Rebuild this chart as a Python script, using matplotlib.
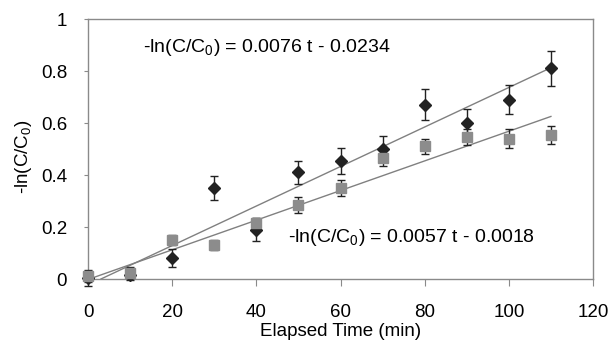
import matplotlib
matplotlib.use("Agg")
import matplotlib.pyplot as plt
import numpy as np

plt.rcParams['font.family'] = ['Liberation Sans', 'DejaVu Sans']
plt.rcParams['mathtext.fontset'] = 'custom'
plt.rcParams['mathtext.rm'] = 'Liberation Sans'
plt.rcParams['mathtext.it'] = 'Liberation Sans:italic'

t = [0, 10, 20, 30, 40, 50, 60, 70, 80, 90, 100, 110]
diamond_y = [0.005, 0.015, 0.08, 0.35, 0.19, 0.41, 0.455, 0.50, 0.67, 0.60, 0.69, 0.81]
diamond_err = [0.03, 0.02, 0.035, 0.045, 0.045, 0.045, 0.05, 0.05, 0.06, 0.055, 0.055, 0.067]
square_y = [0.01, 0.025, 0.15, 0.13, 0.215, 0.285, 0.35, 0.465, 0.51, 0.545, 0.54, 0.555]
square_err = [0.02, 0.02, 0.02, 0.02, 0.02, 0.03, 0.03, 0.03, 0.03, 0.03, 0.035, 0.035]

fit1 = (0.0076, -0.0234)
fit2 = (0.0057, -0.0018)
fit1_range = [3.08, 110]
fit2_range = [0, 110]

fig = plt.figure(figsize=(6.11, 3.41), dpi=100)
ax = fig.add_axes([88/611, 1-279/341, (593-88)/611, (279-19)/341])

frame_col = '#8a8a8a'
for s in ax.spines.values():
    s.set_color(frame_col)
    s.set_linewidth(1.0)

# trendlines
x1 = np.array(fit1_range)
ax.plot(x1, fit1[0]*x1 + fit1[1], color='#808080', lw=1.0, zorder=2)
x2 = np.array(fit2_range)
ax.plot(x2, fit2[0]*x2 + fit2[1], color='#808080', lw=1.0, zorder=2)

ax.errorbar(t, diamond_y, yerr=diamond_err, fmt='D', color='#222222', ms=6.5,
            ecolor='#222222', elinewidth=1.0, capsize=3, capthick=1.0, zorder=3,
            clip_on=False)
ax.errorbar(t, square_y, yerr=square_err, fmt='s', color='#8c8c8c', ms=7,
            ecolor='#222222', elinewidth=1.0, capsize=3, capthick=1.0, zorder=4,
            clip_on=False)

ax.set_xlim(0, 120)
ax.set_ylim(0, 1)
ax.set_xticks([0, 20, 40, 60, 80, 100, 120])
ax.set_yticks([0, 0.2, 0.4, 0.6, 0.8, 1])
ax.set_yticklabels(['0', '0.2', '0.4', '0.6', '0.8', '1'])
ax.tick_params(axis='both', labelsize=13.5, color=frame_col, direction='out')
ax.tick_params(axis='x', length=5, pad=13)
ax.tick_params(axis='y', length=3, pad=12)

ax.set_xlabel('Elapsed Time (min)', fontsize=13.5, va='center')
ax.xaxis.set_label_coords(0.5, (279-332)/260)
ax.set_ylabel(r'-ln(C/C$_0$)', fontsize=13.5, va='center')
ax.yaxis.set_label_coords((23-88)/505, 0.47)

ax.text(13, 0.89, r'-ln(C/C$_0$) = 0.0076 t - 0.0234', fontsize=14, va='center', ha='left')
ax.text(47.5, 0.16, r'-ln(C/C$_0$) = 0.0057 t - 0.0018', fontsize=14, va='center', ha='left')

fig.savefig('out.png', dpi=100)
